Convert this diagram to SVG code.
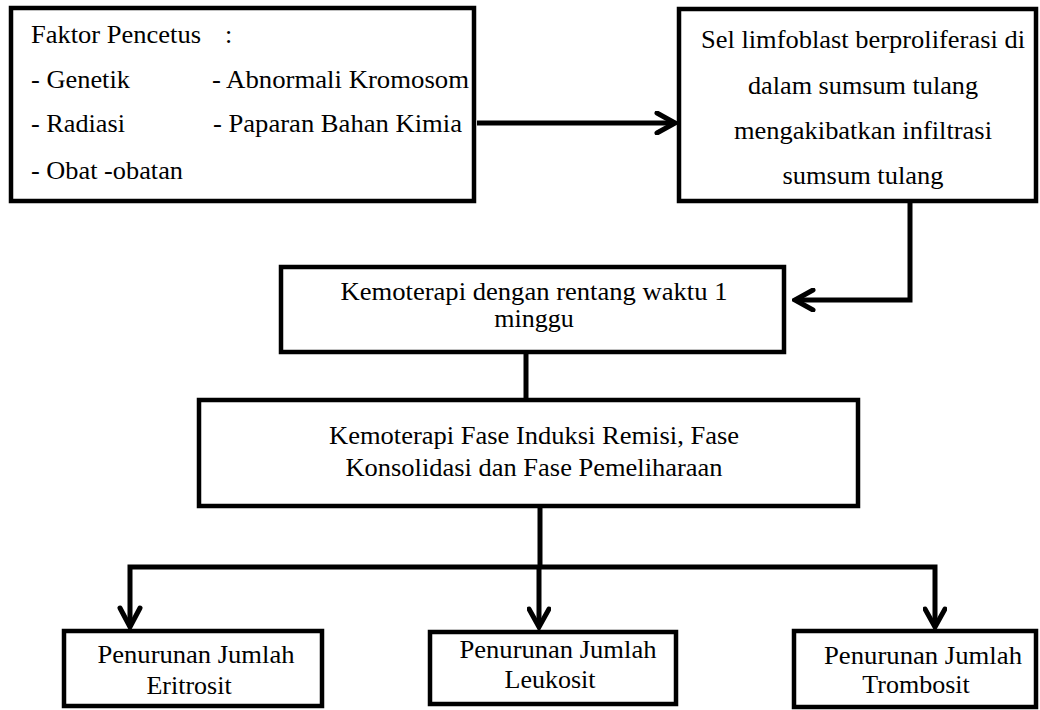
<svg xmlns="http://www.w3.org/2000/svg" width="1040" height="710" viewBox="0 0 1040 710" font-family="'Liberation Serif', 'Times New Roman', serif" font-size="26">
<defs>
<marker id="chev" viewBox="0 0 24 24" refX="21" refY="12" markerWidth="24" markerHeight="24" markerUnits="userSpaceOnUse" orient="auto">
<path d="M3,2 L21,12 L3,22" fill="none" stroke="#000" stroke-width="5" stroke-linecap="round" stroke-linejoin="miter"/>
</marker>
</defs>
<style>
.box{fill:#fff;stroke:#000;stroke-width:4.5}
.t{fill:#000}
.c{text-anchor:middle}
.ln{fill:none;stroke:#000;stroke-width:5}
</style>
<rect width="1040" height="710" fill="#fff"/>
<g id="connectors">
<line class="ln" x1="477" y1="123" x2="675" y2="123" marker-end="url(#chev)"/>
<polyline class="ln" points="910,203 910,300 795,300" marker-end="url(#chev)"/>
<line class="ln" x1="526" y1="352" x2="526" y2="400"/>
<line class="ln" x1="540" y1="506" x2="540" y2="567"/>
<polyline class="ln" points="130,627 130,567 935,567 935,627" marker-end="url(#chev)"/>
<line class="ln" x1="539" y1="567" x2="539" y2="627" marker-end="url(#chev)"/>
<path d="M120,608 L130,627 L140,608" fill="none" stroke="#000" stroke-width="5" stroke-linecap="round"/>
</g>
<g id="faktor">
<rect class="box" x="11" y="8" width="463" height="193"/>
<text class="t" x="31" y="43" textLength="170" lengthAdjust="spacingAndGlyphs">Faktor Pencetus</text>
<text class="t" x="225" y="43">:</text>
<text class="t" x="31" y="88" textLength="99" lengthAdjust="spacingAndGlyphs">- Genetik</text>
<text class="t" x="212" y="88" textLength="257" lengthAdjust="spacingAndGlyphs">- Abnormali Kromosom</text>
<text class="t" x="31" y="132" textLength="94" lengthAdjust="spacingAndGlyphs">- Radiasi</text>
<text class="t" x="213" y="132" textLength="249" lengthAdjust="spacingAndGlyphs">- Paparan Bahan Kimia</text>
<text class="t" x="31" y="179" textLength="152" lengthAdjust="spacingAndGlyphs">- Obat -obatan</text>
</g>
<g id="sel">
<rect class="box" x="679" y="9" width="357" height="192"/>
<text class="t c" x="863" y="48" textLength="324" lengthAdjust="spacingAndGlyphs">Sel limfoblast berproliferasi di</text>
<text class="t c" x="863" y="94" textLength="230" lengthAdjust="spacingAndGlyphs">dalam sumsum tulang</text>
<text class="t c" x="863" y="139" textLength="258" lengthAdjust="spacingAndGlyphs">mengakibatkan infiltrasi</text>
<text class="t c" x="863" y="184" textLength="161" lengthAdjust="spacingAndGlyphs">sumsum tulang</text>
</g>
<g id="kemo1">
<rect class="box" x="281" y="267" width="503" height="85"/>
<text class="t c" x="534" y="300" textLength="387" lengthAdjust="spacingAndGlyphs">Kemoterapi dengan rentang waktu 1</text>
<text class="t c" x="534" y="327">minggu</text>
</g>
<g id="kemo2">
<rect class="box" x="199" y="400" width="659" height="106"/>
<text class="t c" x="534" y="444" textLength="410" lengthAdjust="spacingAndGlyphs">Kemoterapi Fase Induksi Remisi, Fase</text>
<text class="t c" x="534" y="476" textLength="377" lengthAdjust="spacingAndGlyphs">Konsolidasi dan Fase Pemeliharaan</text>
</g>
<g id="eritrosit">
<rect class="box" x="64" y="631" width="258" height="75"/>
<text class="t c" x="196" y="663" textLength="197" lengthAdjust="spacingAndGlyphs">Penurunan Jumlah</text>
<text class="t c" x="189" y="694">Eritrosit</text>
</g>
<g id="leukosit">
<rect class="box" x="430" y="632" width="246" height="72"/>
<text class="t c" x="558" y="658" textLength="197" lengthAdjust="spacingAndGlyphs">Penurunan Jumlah</text>
<text class="t c" x="550" y="688">Leukosit</text>
</g>
<g id="trombosit">
<rect class="box" x="794" y="631" width="242" height="76"/>
<text class="t c" x="923" y="664" textLength="198" lengthAdjust="spacingAndGlyphs">Penurunan Jumlah</text>
<text class="t c" x="916" y="693">Trombosit</text>
</g>
</svg>
